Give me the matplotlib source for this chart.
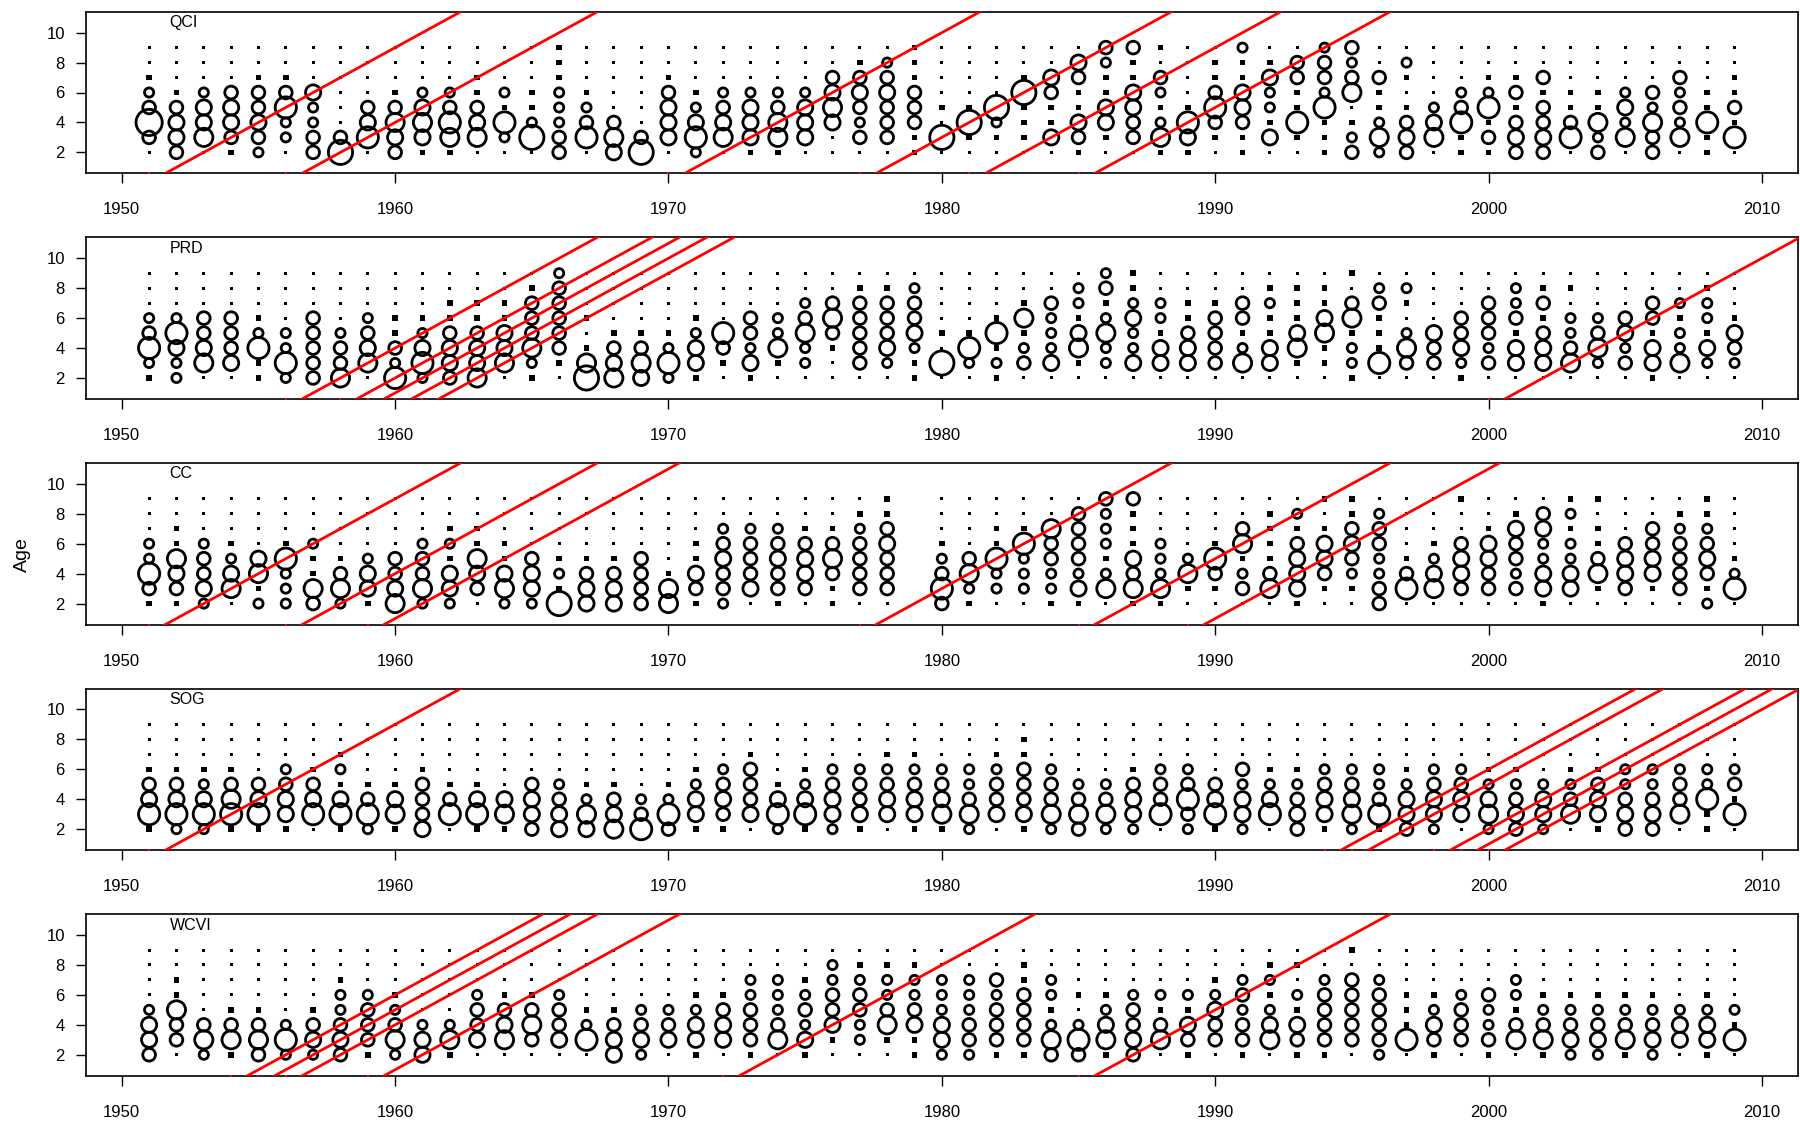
import numpy as np
import matplotlib
matplotlib.use('Agg')
import matplotlib.pyplot as plt

years = np.arange(1951, 2010)
ages = np.arange(2, 10)

# Bubble size class per year (digits for ages 2..9, 0 = trace, '-' = no sample)
qci = [
    "03832100", "34431000", "05442000", "13443000", "23433100", "02263100", "33224000", "73000000", "06430000", "34531000",
    "14542000", "15632000", "05431100", "02612000", "07211000", "33222111", "06321000", "45300000", "73000000", "04443100",
    "26421000", "05432000", "14442000", "15532000", "04442000", "00454300", "03234310", "03334320", "11333111", "07010000",
    "01710000", "01270000", "01117100", "04113400", "13411340", "01441123", "03344113", "15212301", "14610000", "01363110",
    "11344112", "04122410", "01611330", "11162332", "32105323", "25211300", "34310120", "05420000", "11632000", "13162100",
    "34313100", "34331300", "06311000", "32511000", "05242000", "33523000", "05232300", "11611000", "06131100",
]
prd = [
    "12632000", "22462000", "05433000", "04333000", "11621000", "26220000", "33333000", "53320000", "05432000", "62311000",
    "26421000", "34431100", "54431100", "05441100", "12533310", "01333332", "75101000", "54310000", "45310000", "26210000",
    "14421000", "01360000", "14233000", "01522000", "02253200", "00135300", "03333310", "02433310", "11243320", "07010000",
    "02610000", "12161000", "03215100", "04222300", "01541220", "02252132", "04224211", "04412200", "04431100", "03333100",
    "05213300", "04411210", "01541110", "01154110", "12215301", "06111320", "03520120", "03340000", "12433000", "03233300",
    "04413220", "04431310", "05322010", "02532000", "03243000", "14413300", "05221200", "02412210", "02341000",
]
cc = [
    "13622000", "13451100", "24332000", "05421000", "21540000", "22261000", "35112000", "25310000", "14420000", "54330000",
    "25332000", "24412100", "03451100", "25411000", "24430000", "71210000", "44310000", "44310000", "33330000", "55100000",
    "13411000", "23343200", "04333200", "13343200", "03443100", "11353100", "03333210", "03334311", "--------", "36321000",
    "12530000", "02261100", "02226100", "12233500", "14233330", "05212223", "15341113", "15222000", "01520000", "01361000",
    "03215300", "05311110", "14443120", "01344101", "01234311", "33223320", "06310000", "05421000", "03443001", "03344100",
    "03233410", "14422430", "04422121", "01531101", "03443000", "01443300", "03333210", "21343211", "06210000",
]
sog = [
    "16431000", "26431000", "26421000", "16531000", "16430000", "14432000", "06431000", "16412100", "26310000", "15410000",
    "43331000", "06310000", "16410000", "15400000", "34430000", "44320000", "45210000", "54310000", "63200000", "36210000",
    "14421000", "13432000", "04333100", "26410000", "16421000", "24432000", "14332000", "04432100", "14432100", "15432000",
    "25322000", "04332100", "14333110", "25332000", "35320000", "25320000", "24431000", "06332000", "23632000", "16430000",
    "24423000", "06421000", "34321000", "14432000", "25432000", "16322000", "34421000", "24432000", "04432000", "25421000",
    "34321000", "24420000", "05321000", "14431000", "34322000", "34322000", "05332000", "11622000", "06132000",
]
wcvi = [
    "34420000", "03351100", "25300000", "15310000", "35310000", "26200000", "24310000", "34322100", "13332000", "25321000",
    "44200000", "15200000", "04332000", "05431000", "03531000", "04332000", "06210000", "44310000", "24320000", "04320000",
    "14421000", "04431000", "13332200", "05322200", "14232100", "01433220", "02233210", "01532210", "11432210", "24422200",
    "23322200", "13332300", "13333110", "35212200", "36201000", "15421000", "34332000", "05312000", "13412000", "03342100",
    "13323200", "05421210", "13412010", "13333200", "03333301", "23333200", "06111000", "13421000", "03332000", "13223000",
    "05312200", "15321000", "24321000", "24321000", "15321000", "24321000", "04420000", "14421000", "06120000",
]

# Year classes traced by the red cohort lines (age 0 in that year)
qci_cohorts = [1951, 1956, 1970, 1977, 1981, 1985]
prd_cohorts = [1956, 1958, 1959, 1960, 1961, 2000]
cc_cohorts = [1951, 1956, 1959, 1977, 1985, 1989]
sog_cohorts = [1951, 1994, 1995, 1998, 1999, 2000]
wcvi_cohorts = [1954, 1955, 1956, 1959, 1972, 1985]

areas = ["QCI", "PRD", "CC", "SOG", "WCVI"]
comps = [qci, prd, cc, sog, wcvi]
cohorts = [qci_cohorts, prd_cohorts, cc_cohorts, sog_cohorts, wcvi_cohorts]

# outer bubble diameter (px) for each size class; classes 0-1 draw as solid dots
class_px = [3.0, 5.5, 12.0, 15.5, 18.0, 21.0, 24.0, 27.0, 29.0]

plt.rcParams['font.family'] = ['Liberation Sans', 'DejaVu Sans']

W, H = 1800, 1121
LW_PX = 2.8  # circle outline width in pixels
PT = 0.72    # points per pixel at 100 dpi
fig = plt.figure(figsize=(W / 100, H / 100), dpi=100)

for i in range(5):
    top = 11.7 + i * 225.6
    ax = fig.add_axes([85.7 / W, 1 - (top + 161.6) / H, (1798 - 85.7) / W, 161.6 / H])

    ring_x, ring_y, ring_s = [], [], []
    dot_x, dot_y, dot_s = [], [], []
    for yr, col in zip(years, comps[i]):
        if col.startswith('-'):
            continue
        for age, ch in zip(ages, col):
            k = int(ch)
            d = class_px[k]
            if k <= 1:
                dot_x.append(yr)
                dot_y.append(age)
                dot_s.append((d * PT) ** 2)
            else:
                ring_x.append(yr)
                ring_y.append(age)
                ring_s.append(((d - LW_PX) * PT) ** 2)
    ax.scatter(ring_x, ring_y, s=ring_s, facecolors='none', edgecolors='black',
               linewidths=LW_PX * PT, zorder=2)
    ax.scatter(dot_x, dot_y, s=dot_s, c='black', marker='s', linewidths=0, zorder=2)

    for c in cohorts[i]:
        ax.plot([c, c + 14], [0, 14], color='red', lw=2.0, zorder=3)
        ax.plot([c], [0.6], marker='s', ms=1.8, color='red', mew=0, clip_on=False, zorder=3)

    ax.set_xlim(1948.68, 2011.32)
    ax.set_ylim(0.6, 11.4)
    ax.set_xticks(range(1950, 2011, 10))
    ax.set_yticks(range(2, 11, 2))
    ax.tick_params(axis='both', length=7, width=1.0, labelsize=12, direction='out')
    ax.tick_params(axis='x', pad=14)
    ax.tick_params(axis='y', pad=8)
    for sp in ax.spines.values():
        sp.set_linewidth(1.2)
    ax.text(0.049, 0.932, areas[i], transform=ax.transAxes, fontsize=11.5, va='center', ha='left')

fig.text(22 / W, 1 - 555 / H, 'Age', rotation=90, fontsize=14, ha='center', va='center')

fig.savefig('out.png', dpi=100)
